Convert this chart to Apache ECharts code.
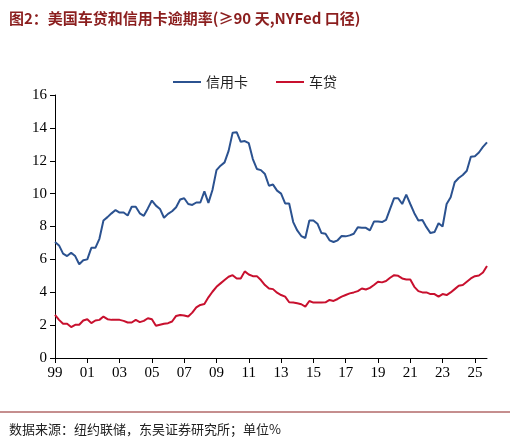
<!DOCTYPE html>
<html><head><meta charset="utf-8">
<script src="https://cdn.jsdelivr.net/npm/echarts@6/dist/echarts.min.js"></script>
<style>html,body{margin:0;padding:0;background:#fff}#c{width:510px;height:445px}</style>
</head><body><div id="c"></div>
<script>
const categories=[];for(let y=1999;y<=2025;y++){for(let q=1;q<=4;q++){categories.push(String(y%100).padStart(2,'0')+'Q'+q);}}
const creditCard=[7.06,6.85,6.35,6.2,6.4,6.2,5.7,5.95,6.0,6.7,6.7,7.25,8.37,8.57,8.8,9.0,8.85,8.85,8.67,9.2,9.2,8.8,8.65,9.1,9.58,9.27,9.07,8.53,8.77,8.93,9.17,9.64,9.72,9.37,9.31,9.46,9.46,10.14,9.44,10.22,11.43,11.7,11.9,12.6,13.71,13.74,13.15,13.2,13.07,12.1,11.5,11.43,11.19,10.48,10.55,10.18,10.0,9.4,9.4,8.27,7.76,7.42,7.3,8.37,8.37,8.17,7.6,7.56,7.16,7.06,7.16,7.42,7.4,7.46,7.56,7.96,7.92,7.92,7.76,8.3,8.3,8.27,8.4,9.07,9.72,9.72,9.37,9.94,9.37,8.81,8.37,8.4,7.96,7.6,7.66,8.2,8.0,9.37,9.78,10.69,10.95,11.13,11.39,12.24,12.28,12.5,12.84,13.12];
const autoLoan=[2.62,2.32,2.08,2.08,1.88,2.02,2.02,2.28,2.36,2.12,2.28,2.32,2.52,2.36,2.32,2.32,2.32,2.26,2.16,2.16,2.32,2.18,2.26,2.42,2.36,1.96,2.02,2.08,2.12,2.22,2.56,2.62,2.58,2.52,2.76,3.08,3.23,3.29,3.69,4.03,4.33,4.54,4.74,4.94,5.04,4.84,4.84,5.27,5.08,4.98,4.98,4.74,4.44,4.23,4.19,3.97,3.83,3.73,3.39,3.37,3.33,3.27,3.13,3.47,3.37,3.37,3.37,3.39,3.53,3.47,3.59,3.73,3.83,3.93,3.99,4.07,4.23,4.17,4.27,4.44,4.64,4.6,4.68,4.88,5.04,5.0,4.84,4.78,4.78,4.33,4.07,3.99,3.99,3.89,3.89,3.73,3.89,3.83,3.99,4.19,4.4,4.44,4.64,4.84,4.98,5.02,5.2,5.6];
const yTicks=[0,2,4,6,8,10,12,14,16];
const ccLabelIdx=[45,107], alLabelIdx=[47,107];
const serif='"Liberation Serif","Times New Roman",serif';
function marks(arr,idx){return {symbol:'none',silent:true,data:idx.map(i=>({coord:[categories[i],arr[i]],symbol:'none',label:{show:true,position:'top',distance:i===107?14:12,formatter:arr[i].toFixed(2),offset:i===107?[-6,0]:[0,0],fontFamily:serif,fontSize:17,color:'#222'}}))};}
const chart=echarts.init(document.getElementById('c'));
chart.setOption({
  animation:false,
  title:[{text:'图2：美国车贷和信用卡逾期率(≥90 天,NYFed 口径)',left:4,top:6,textStyle:{fontFamily:'"Noto Sans CJK SC"',fontWeight:'bold',fontSize:15,color:'#8B1E1E'}},
         {text:'数据来源：纽约联储，东吴证券研究所；单位%',left:4,top:418,textStyle:{fontFamily:'"Noto Sans CJK SC"',fontWeight:'normal',fontSize:13,color:'#222'}}],
  graphic:[{type:'line',shape:{x1:0,y1:412,x2:510,y2:412},style:{stroke:'#8B1E1E',lineWidth:1}}],
  legend:{top:70,left:'center',itemWidth:28,itemGap:28,icon:'path://M0,0H28V2H0Z',textStyle:{fontFamily:'"Noto Sans CJK SC"',fontSize:14,color:'#222'},data:['信用卡','车贷']},
  grid:{left:55,right:23,top:95,bottom:87},
  xAxis:{type:'category',data:categories,boundaryGap:false,
    axisLine:{lineStyle:{color:'#000'}},
    axisTick:{interval:7,length:5,lineStyle:{color:'#000'}},
    axisLabel:{interval:7,formatter:v=>v.slice(0,2),fontFamily:serif,fontSize:15,color:'#000',margin:8}},
  yAxis:{type:'value',min:0,max:16,interval:2,
    axisLine:{show:true,lineStyle:{color:'#000'}},
    axisTick:{show:true,length:5,lineStyle:{color:'#000'}},
    splitLine:{show:false},
    axisLabel:{fontFamily:serif,fontSize:15,color:'#000',margin:8,formatter:v=>yTicks.includes(v)?String(v):''}},
  series:[
    {name:'信用卡',type:'line',data:creditCard,symbol:'none',lineStyle:{color:'#2B5290',width:2},itemStyle:{color:'#2B5290'},markPoint:marks(creditCard,ccLabelIdx)},
    {name:'车贷',type:'line',data:autoLoan,symbol:'none',lineStyle:{color:'#C8102E',width:2},itemStyle:{color:'#C8102E'},markPoint:marks(autoLoan,alLabelIdx)}
  ]
});
</script></body></html>
